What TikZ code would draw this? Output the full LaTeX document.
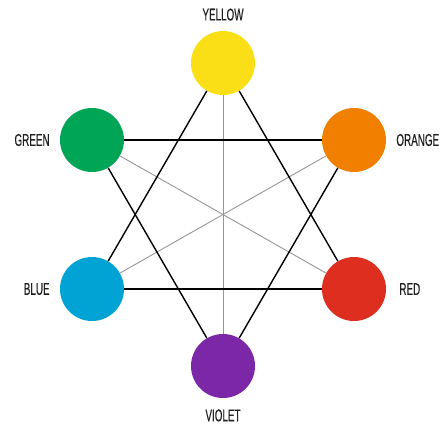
\documentclass[tikz,border=0pt]{standalone}
\usepackage{fontspec}
\setmainfont[FakeStretch=0.58, FakeBold=0.25]{Liberation Sans}
\usetikzlibrary{positioning}
\usepackage{xcolor}
\definecolor{hueyellow}{RGB}{251,223,22}
\definecolor{hueorange}{RGB}{241,128,0}
\definecolor{huered}{RGB}{222,46,32}
\definecolor{hueviolet}{RGB}{124,38,168}
\definecolor{hueblue}{RGB}{0,163,211}
\definecolor{huegreen}{RGB}{0,166,85}
\definecolor{namegray}{RGB}{30,30,30}
\definecolor{axisgray}{RGB}{150,150,150}

\tikzset{
    hue/.style={circle, minimum size=64pt, inner sep=0pt},
    huename/.style={inner sep=0pt, text=namegray, font=\fontsize{17}{17}\selectfont},
    triad/.style={line width=1.4pt, black},
    axis/.style={line width=0.9pt, axisgray}
}

\begin{document}
\begin{tikzpicture}[x=1pt, y=-1pt]
\useasboundingbox (0,0) rectangle (441,426);

% the six hues
\node[hue, fill=hueyellow] (yellow) at (223,63) {};
\node[hue, fill=hueorange] (orange) at (354,140) {};
\node[hue, fill=huered]    (red)    at (354,289) {};
\node[hue, fill=hueviolet] (violet) at (223,366) {};
\node[hue, fill=hueblue]   (blue)   at (92,289) {};
\node[hue, fill=huegreen]  (green)  at (92,140) {};

% names
\node[huename, above=10pt of yellow] (yellowname) {YELLOW};
\node[huename, right=10pt of orange] (orangename) {ORANGE};
\node[huename, right=13pt of red]    (redname)    {RED};
\node[huename, below=11pt of violet] (violetname) {VIOLET};
\node[huename, left=10pt of blue]    (bluename)   {BLUE};
\node[huename, left=10pt of green]   (greenname)  {GREEN};

% complements
\draw[axis] (yellow) -- (violet);
\draw[axis] (green) -- (red);
\draw[axis] (orange) -- (blue);

% primary and secondary triads
\draw[triad] (yellow) -- (red);
\draw[triad] (red) -- (blue);
\draw[triad] (blue) -- (yellow);
\draw[triad] (orange) -- (violet);
\draw[triad] (violet) -- (green);
\draw[triad] (green) -- (orange);
\end{tikzpicture}
\end{document}
